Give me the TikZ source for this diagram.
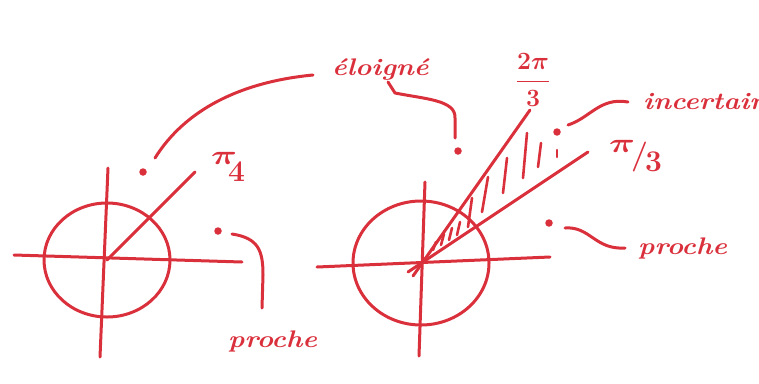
\documentclass[tikz,border=0pt]{standalone}
\usepackage{amsmath}
\usepackage{graphicx}
\definecolor{ink}{RGB}{218,48,60}
\tikzset{
  ink/.style={draw=ink, line width=3pt, line cap=round, line join=round},
  dotpt/.style={circle, fill=ink, inner sep=0pt, minimum size=7.5pt},
  hand/.style={text=ink, font=\fontsize{24}{24}\selectfont\bfseries\itshape, inner sep=0pt, xscale=1.15},
  mathlbl/.style={text=ink, inner sep=0pt},
  hatch/.style={draw=ink, line width=2.6pt, line cap=round}
}
\begin{document}
\begin{tikzpicture}[x=1pt,y=-1pt]
\useasboundingbox (0,0) rectangle (759,383);
% ---------- left figure ----------
\coordinate (LO) at (107,260);
\coordinate (LW) at (14,255);
\coordinate (LE) at (242,262);
\coordinate (LN) at (108,168);
\coordinate (LS) at (100,357);
\coordinate (LR) at (195,172);
\draw[ink] (LW) -- (LE);
\draw[ink] (LN) -- (LS);
\draw[ink] (LO) ellipse [x radius=63, y radius=57];
\draw[ink] (LO) -- (LR);
\node[mathlbl, font=\fontsize{30}{30}\selectfont, anchor=north west] (pi4) at (211,152)
  {\scalebox{1.45}[1.1]{$\boldsymbol{\pi}$}\kern-9pt\raisebox{-17pt}{\bfseries 4}};
\node[dotpt] (dA) at (143,172) {};
\node[dotpt] (dB) at (218,231) {};
\node[hand, anchor=base west] (procheL) at (228,347) {proche};
% ---------- right figure ----------
\coordinate (RO) at (421,263);
\coordinate (RW) at (317,267);
\coordinate (RE) at (550,257);
\coordinate (RN) at (425,182);
\coordinate (RS) at (419,356);
\coordinate (RA) at (530,110);
\coordinate (RB) at (588,152);
\coordinate (RAt) at (413,276);
\coordinate (RBt) at (408,272);
\draw[ink] (RW) -- (RE);
\draw[ink] (RN) -- (RS);
\draw[ink] (RO) ellipse [x radius=68, y radius=62];
\draw[ink] (RAt) -- (RA);
\draw[ink] (RBt) -- (RB);
% hatching between the two rays
\foreach \xa/\ya/\xb/\yb in {433/250/436/242, 441/245/444/234, 449/240/452/228, 457/235/460/222,
  468/227/472/198, 482/212/488/177, 503/193/507/158, 523/178/527/133, 538/167/541/143, 557/157/557/150}
  \draw[hatch] (\xa,\ya) -- (\xb,\yb);
\node[dotpt] (dC) at (458,151) {};
\node[dotpt] (dD) at (557,132) {};
\node[dotpt] (dE) at (549,223) {};
\node[mathlbl, font=\fontsize{24}{24}\selectfont] (tpi3) at (533,80) {$\boldsymbol{\dfrac{2\pi}{3}}$};
\node[mathlbl, font=\fontsize{30}{30}\selectfont, anchor=north west] (pi3) at (609,140)
  {\scalebox{1.45}[1.1]{$\boldsymbol{\pi}$}\kern-4pt\raisebox{-12pt}{\bfseries /}\kern-3pt\raisebox{-19pt}{\bfseries 3}};
\node[hand, anchor=base west] (elo) at (332,75) {éloigné};
\node[hand, anchor=base west] (inc) at (643,109) {incertain};
\node[hand, anchor=base west] (procheR) at (638,254) {proche};
% ---------- connectors ----------
\coordinate (c1a) at (155,158);
\coordinate (c1b) at (313,75);
\draw[ink] (c1a) .. controls (185,110) and (240,82) .. (c1b);
\coordinate (c2a) at (388,82);
\coordinate (c2b) at (395,93);
\coordinate (c2c) at (455,138);
\draw[ink] (c2a) -- (c2b) .. controls (425,99) and (456,100) .. (455,118) -- (c2c);
\coordinate (c3a) at (232,234);
\coordinate (c3b) at (262,308);
\draw[ink] (c3a) .. controls (258,238) and (263,250) .. (263,275) -- (c3b);
\coordinate (c4a) at (568,125);
\coordinate (c4b) at (628,102);
\draw[ink] (c4a) .. controls (590,118) and (600,97) .. (c4b);
\coordinate (c5a) at (565,228);
\coordinate (c5b) at (625,248);
\draw[ink] (c5a) .. controls (590,226) and (595,250) .. (c5b);
\end{tikzpicture}
\end{document}
